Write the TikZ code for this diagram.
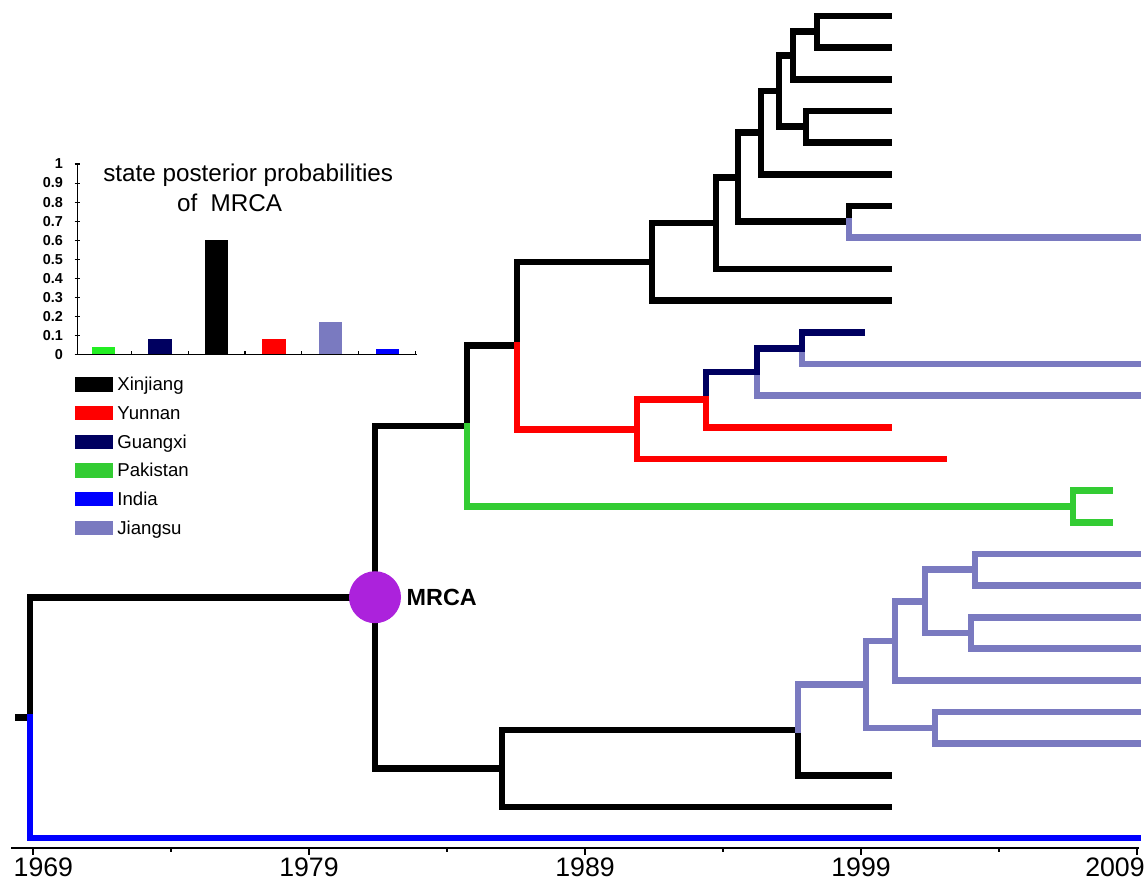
\documentclass[tikz,border=0pt]{standalone}
\usepackage{fontspec}
\setmainfont{Liberation Sans}
\usepackage{xcolor}
\usetikzlibrary{positioning}
\definecolor{xinjiang}{RGB}{0,0,0}
\definecolor{yunnan}{RGB}{255,0,0}
\definecolor{guangxi}{RGB}{0,0,96}
\definecolor{pakistan}{RGB}{51,204,51}
\definecolor{pakistanbar}{RGB}{34,238,34}
\definecolor{india}{RGB}{0,0,255}
\definecolor{jiangsu}{RGB}{122,122,192}
\definecolor{mrcapurple}{RGB}{172,34,220}

\begin{document}
\begin{tikzpicture}[x=0.02cm,y=-0.02cm,
        br/.style={line width=3.8pt,line cap=rect},
        swatch/.style={rectangle,minimum width=0.754cm,minimum height=0.288cm,inner sep=0},
        legtext/.style={inner sep=0,font=\fontsize{10.6}{12}\selectfont,text height=1.6ex,text depth=0.2ex},
        ticklab/.style={inner sep=0,anchor=east,font=\fontsize{8.2}{10}\selectfont\bfseries},
        yearlab/.style={inner sep=0,font=\fontsize{15.2}{18}\selectfont},
        titlelab/.style={inner sep=0,anchor=base west,font=\fontsize{13.8}{16}\selectfont}]
        \useasboundingbox (0,0) rectangle (1148,882);

        \coordinate (l0) at (889,16.0);
        \coordinate (l1) at (889,47.64);
        \coordinate (l2) at (889,79.28);
        \coordinate (l3) at (889,110.92);
        \coordinate (l4) at (889,142.56);
        \coordinate (l5) at (889,174.2);
        \coordinate (l6) at (889,205.84);
        \coordinate (l7) at (1138,237.48);
        \coordinate (l8) at (889,269.12);
        \coordinate (l9) at (889,300.76);
        \coordinate (l10) at (862,332.4);
        \coordinate (l11) at (1138,364.04);
        \coordinate (l12) at (1138,395.68);
        \coordinate (l13) at (889,427.32);
        \coordinate (l14) at (944,458.96);
        \coordinate (l15) at (1110,490.6);
        \coordinate (l16) at (1110,522.24);
        \coordinate (l17) at (1138,553.88);
        \coordinate (l18) at (1138,585.52);
        \coordinate (l19) at (1138,617.16);
        \coordinate (l20) at (1138,648.8);
        \coordinate (l21) at (1138,680.44);
        \coordinate (l22) at (1138,712.08);
        \coordinate (l23) at (1138,743.72);
        \coordinate (l24) at (889,775.36);
        \coordinate (l25) at (889,807.0);
        \coordinate (lin) at (1138,838);

        \coordinate (a01) at (817,31.82);
        \coordinate (a02) at (793,55.55);
        \coordinate (a34) at (806,126.74);
        \coordinate (a04) at (779,91.15);
        \coordinate (a05) at (761,132.67);
        \coordinate (a67) at (849,221.66);
        \coordinate (a07) at (738,177.17);
        \coordinate (a08) at (716,223.14);
        \coordinate (a09) at (652,261.95);
        \coordinate (b1011) at (802,348.22);
        \coordinate (b1012) at (757,371.95);
        \coordinate (b1013) at (706,399.64);
        \coordinate (b1014) at (637,429.3);
        \coordinate (c) at (517,345.6);
        \coordinate (g) at (1073,506.42);
        \coordinate (d) at (467,426.0);
        \coordinate (p1718) at (975,569.7);
        \coordinate (p1920) at (971,632.98);
        \coordinate (p1720) at (925,601.34);
        \coordinate (p1721) at (895,640.89);
        \coordinate (p2223) at (935,727.9);
        \coordinate (p1723) at (866,684.4);
        \coordinate (e) at (798,729.88);
        \coordinate (f) at (502,768.44);
        \coordinate (mrca) at (375,597.22);
        \coordinate (root) at (30,717.6);
        \coordinate (stub) at (18,717.6);

        \draw[br,xinjiang] (stub) -- (root) (root) |- (mrca) (mrca) |- (d) (mrca) |- (f)
            (d) |- (c) (c) |- (a09) (a09) |- (a08) (a09) |- (l9) (a08) |- (a07) (a08) |- (l8)
            (a07) |- (a05) (a07) |- (a67) (a67) |- (l6) (a05) |- (a04) (a05) |- (l5)
            (a04) |- (a02) (a04) |- (a34) (a34) |- (l3) (a34) |- (l4)
            (a02) |- (a01) (a02) |- (l2) (a01) |- (l0) (a01) |- (l1)
            (f) |- (e) (f) |- (l25) (e) |- (l24);
        \draw[br,jiangsu] (a67) |- (l7) (b1011) |- (l11) (b1012) |- (l12)
            (e) |- (p1723) (p1723) |- (p1721) (p1723) |- (p2223) (p2223) |- (l22) (p2223) |- (l23)
            (p1721) |- (p1720) (p1721) |- (l21) (p1720) |- (p1718) (p1720) |- (p1920)
            (p1718) |- (l17) (p1718) |- (l18) (p1920) |- (l19) (p1920) |- (l20);
        \draw[br,guangxi] (b1013) |- (b1012) (b1012) |- (b1011) (b1011) |- (l10);
        \draw[br,yunnan] (c) |- (b1014) (b1014) |- (b1013) (b1014) |- (l14) (b1013) |- (l13);
        \draw[br,pakistan] (d) |- (g) (g) |- (l15) (g) |- (l16);
        \draw[br,india] (root) |- (lin);

        \node at (mrca) [circle,fill=mrcapurple,minimum size=1.04cm,inner sep=0] (mrcadot) {};
        \node [right=0.1cm of mrcadot,inner sep=0,font=\fontsize{13.3}{16}\selectfont\bfseries] (mrcatxt) {MRCA};

        \draw[line width=1.1pt] (11,847.7) -- (1139,847.7);
        \foreach \k in {0,2,4,6,8} \draw[line width=1pt] (33+138*\k,847.7) -- (33+138*\k,855);
        \foreach \k in {1,3,5,7} \draw[line width=1pt] (33+138*\k,847.7) -- (33+138*\k,852);
        \node at (13.3,876.5) [yearlab,anchor=base west] (y1969) {1969};
        \node at (309,876.5) [yearlab,anchor=base] (y1979) {1979};
        \node at (585,876.5) [yearlab,anchor=base] (y1989) {1989};
        \node at (861,876.5) [yearlab,anchor=base] (y1999) {1999};
        \node at (1145,876.5) [yearlab,anchor=base east] (y2009) {2009};

        \draw[line width=0.6pt] (75,354.3) -- (416.7,354.3);
        \draw[line width=0.6pt] (77.3,354.3) -- (77.3,164);
        \foreach \k/\v in {0/0,1/0.1,2/0.2,3/0.3,4/0.4,5/0.5,6/0.6,7/0.7,8/0.8,9/0.9,10/1} {
            \draw[line width=0.6pt] (74.5,354.3-19.03*\k) -- (80,354.3-19.03*\k);
            \node at (63.3,354.3-19.03*\k) [ticklab] (t\k) {\v};
        }
        \foreach \k in {1,...,6} \draw[line width=0.6pt] (75+56.67*\k,354.3) -- (75+56.67*\k,351);
        \fill[pakistanbar] (91.7,354.3) rectangle (115,346.7);
        \fill[guangxi] (148.3,354.3) rectangle (171.7,339.1);
        \fill[xinjiang] (205,354.3) rectangle (228.3,240.1);
        \fill[yunnan] (262.3,354.3) rectangle (285.7,339.1);
        \fill[jiangsu] (319,354.3) rectangle (342.3,321.9);
        \fill[india] (375.7,354.3) rectangle (399,348.6);
        \node at (103,181.7) [titlelab] (ttl1) {state posterior probabilities};
        \node at (176.7,211.7) [titlelab] (ttl2) {of~~MRCA};

        \node at (93.85,384.3) [swatch,fill=xinjiang] (sw1) {};
        \node [right=0.08cm of sw1,legtext] (lt1) {Xinjiang};
        \node at (93.85,413) [swatch,fill=yunnan] (sw2) {};
        \node [right=0.08cm of sw2,legtext] (lt2) {Yunnan};
        \node at (93.85,441.7) [swatch,fill=guangxi] (sw3) {};
        \node [right=0.08cm of sw3,legtext] (lt3) {Guangxi};
        \node at (93.85,470.4) [swatch,fill=pakistan] (sw4) {};
        \node [right=0.08cm of sw4,legtext] (lt4) {Pakistan};
        \node at (93.85,499.1) [swatch,fill=india] (sw5) {};
        \node [right=0.08cm of sw5,legtext] (lt5) {India};
        \node at (93.85,527.8) [swatch,fill=jiangsu] (sw6) {};
        \node [right=0.08cm of sw6,legtext] (lt6) {Jiangsu};
\end{tikzpicture}
\end{document}
